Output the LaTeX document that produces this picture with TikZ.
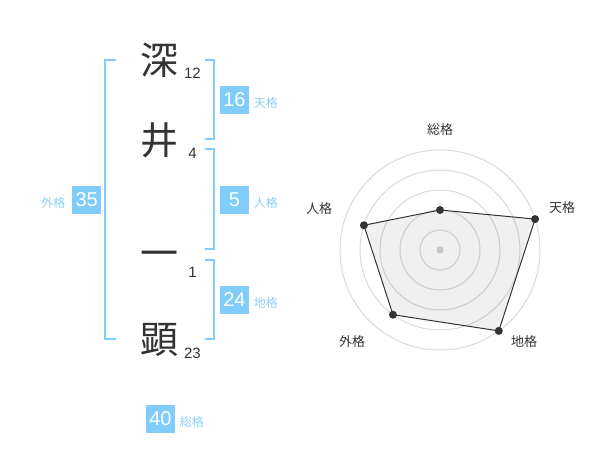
\documentclass[tikz,border=0pt]{standalone}
\usepackage{fontspec}
\setmainfont{Liberation Sans}
\newfontfamily\jp{Noto Sans CJK JP}
\usetikzlibrary{positioning}
\definecolor{boxblue}{HTML}{80CCFA}
\definecolor{lblblue}{HTML}{8DD0F5}
\definecolor{ink}{HTML}{333333}
\begin{document}
\begin{tikzpicture}[x=0.5pt,y=-0.5pt,inner sep=0pt,
  kanji/.style={font=\jp\fontsize{19}{19}\selectfont,text=ink},
  strokes/.style={font=\fontsize{7.5}{7.5}\selectfont,text=ink},
  score/.style={fill=boxblue,text=white,minimum width=14.5pt,minimum height=14pt,font=\fontsize{10}{10}\selectfont},
  kaku/.style={text=lblblue,font=\jp\fontsize{6}{6}\selectfont,yshift=-1.5pt},
  bracket/.style={boxblue,line width=1pt},
  ring/.style={draw=black!15,line width=0.5pt},
  axis/.style={text=ink,font=\jp\fontsize{6.5}{6.5}\selectfont}]
  \useasboundingbox (0,0) rectangle (600,470);
  \foreach [count=\Z] \K/\Y/\N in {深/60/12,井/140/4,一/259/1,顕/340/23}
  {\node[kanji] (k\Z) at (159,\Y) {\K};
   \node[strokes] (n\Z) at (192.5,\Y+13) {\N};}
  \draw[bracket] (116,60) -- (105,60) -- (105,339) -- (116,339);
  \foreach \A/\B in {60/139,149/249,260/339}
  {\draw[bracket] (205,\A) -- (214,\A) -- (214,\B) -- (205,\B);}
  \node[score] (ten) at (234.5,100) {16};
  \node[kaku,right=2pt of ten] (tenl) {天格};
  \node[score] (jin) at (234.5,200) {5};
  \node[kaku,right=2pt of jin] (jinl) {人格};
  \node[score] (chi) at (234.5,300) {24};
  \node[kaku,right=2pt of chi] (chil) {地格};
  \node[score] (gai) at (86.7,200) {35};
  \node[kaku,left=3pt of gai] (gail) {外格};
  \node[score] (sou) at (160.5,419) {40};
  \node[kaku,right=2pt of sou] (soul) {総格};
  \begin{scope}[shift={(440,250)}]
    \foreach \R in {20,40,...,100}
    {\draw[ring] (0,0) circle[radius=\R*0.5pt];}
    \foreach [count=\Z] \A/\V/\T/\X/\Y in {-90/40/総格/0/-120,-18/100/天格/122/-42,54/100/地格/84/92,126/80/外格/-88/92,198/80/人格/-121/-41}
    {\coordinate (v\Z) at (\A:\V);
     \node[axis] (l\Z) at (\X,\Y) {\T};}
    \draw[ink,line width=0.5pt,fill=black,fill opacity=0.06] (v1) -- (v2) -- (v3) -- (v4) -- (v5) -- cycle;
    \foreach \Z in {1,...,5}
    {\fill[ink] (v\Z) circle(2pt);}
    \fill[black!22] (0,0) circle(1.8pt);
  \end{scope}
\end{tikzpicture}
\end{document}
